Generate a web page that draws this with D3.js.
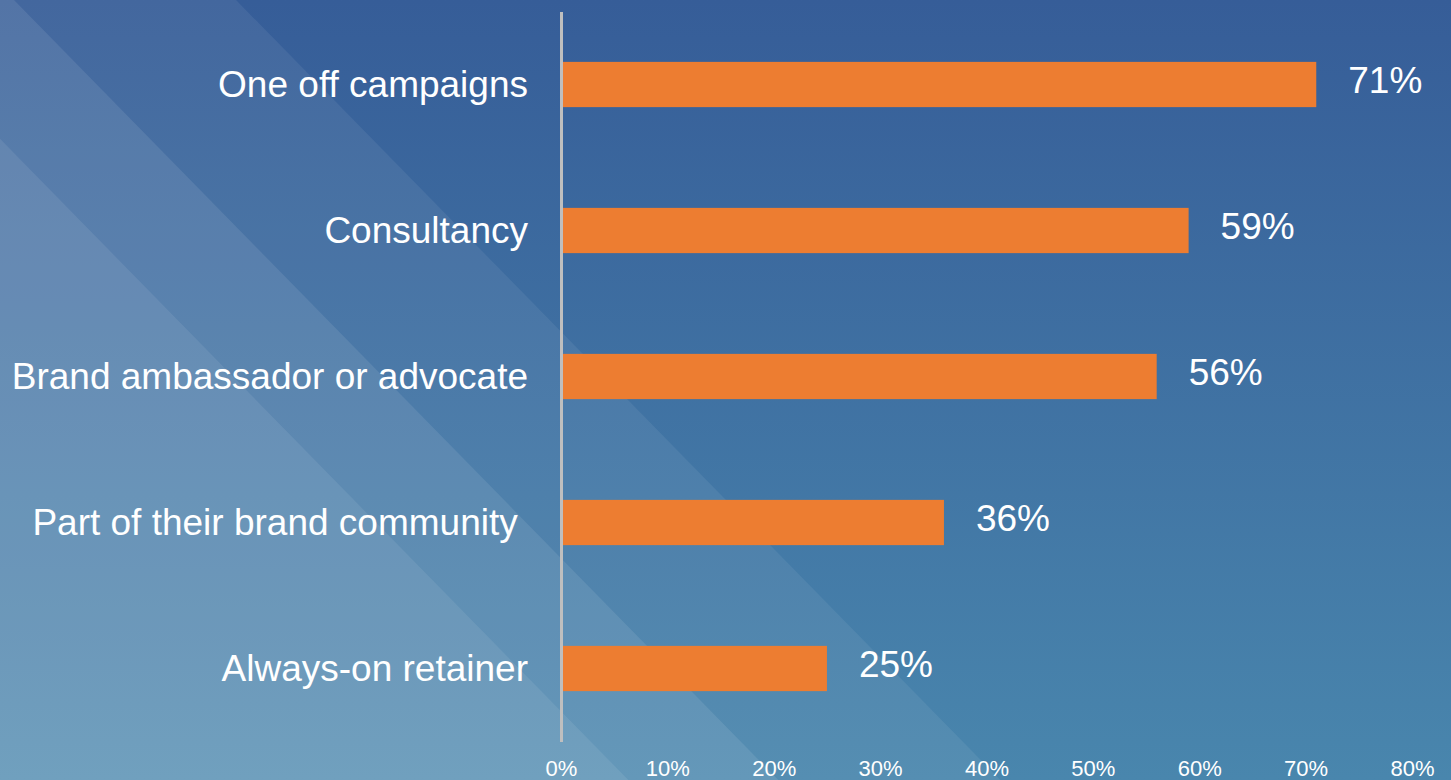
<!DOCTYPE html>
<html>
<head>
<meta charset="utf-8">
<script src="https://cdn.jsdelivr.net/npm/d3@7"></script>
<style>
  html, body { margin: 0; padding: 0; background: #365d98; }
  svg { display: block; }
  text { font-family: "Liberation Sans", Arial, sans-serif; fill: #ffffff; }
</style>
</head>
<body>
<svg id="chart" width="1451" height="780"></svg>
<script>
// Engagement types and share of respondents
const categories = [
  "One off campaigns",
  "Consultancy",
  "Brand ambassador or advocate",
  "Part of their brand community ",
  "Always-on retainer"
];
const shares = [0.71, 0.59, 0.56, 0.36, 0.25];
const tickValues = [0, 0.1, 0.2, 0.3, 0.4, 0.5, 0.6, 0.7, 0.8];

// Decorative diagonal bands of the slide background (x where each edge meets the top)
const bandEdges = [236, 14, -136];
const bandOpacity = [0.065, 0.09, 0.08];

const W = 1451, H = 780;
const svg = d3.select("#chart");

// Background: vertical blue gradient
const defs = svg.append("defs");
const grad = defs.append("linearGradient")
  .attr("id", "bg").attr("x1", 0).attr("y1", 0).attr("x2", 0).attr("y2", 1);
grad.append("stop").attr("offset", "0%").attr("stop-color", "#365d98");
grad.append("stop").attr("offset", "100%").attr("stop-color", "#4986ad");
svg.append("rect").attr("width", W).attr("height", H).attr("fill", "url(#bg)");

// Lighter translucent bands on the left, edges slanting down to the right
const slope = 0.98;
svg.append("g").selectAll("path")
  .data(bandEdges)
  .join("path")
  .attr("d", e => `M0,0 L${e},0 L${e + slope * H},${H} L0,${H} Z`)
  .attr("fill", "#ffffff")
  .attr("fill-opacity", (d, i) => bandOpacity[i]);

// Scales
const x = d3.scaleLinear().domain([0, 0.8]).range([561, 1412]);
const y = d3.scaleBand().domain(categories)
  .range([11.5, 741.5]).paddingInner(0.69).paddingOuter(0.345);

// Bars
svg.append("g").selectAll("rect")
  .data(categories)
  .join("rect")
  .attr("x", x(0))
  .attr("y", d => y(d))
  .attr("width", (d, i) => x(shares[i]) - x(0))
  .attr("height", y.bandwidth())
  .attr("fill", "#ed7d31");

// Value labels
svg.append("g").selectAll("text")
  .data(categories)
  .join("text")
  .attr("x", (d, i) => x(shares[i]) + 32)
  .attr("y", d => y(d) + y.bandwidth() / 2 + 8)
  .attr("font-size", 37)
  .text((d, i) => d3.format(".0%")(shares[i]));

// Category axis (vertical line + labels)
const yAxis = svg.append("g")
  .attr("transform", `translate(${x(0)},0)`)
  .call(d3.axisLeft(y).tickSize(0).tickSizeOuter(0).tickPadding(33));
yAxis.select(".domain").attr("stroke", "#bfbfbf").attr("stroke-width", 3);
yAxis.selectAll(".tick text")
  .attr("font-size", 37)
  .attr("fill", "#ffffff")
  .attr("font-family", null)
  .attr("dy", null)
  .attr("y", 12)
  .attr("xml:space", "preserve")
  .style("white-space", "pre");
yAxis.attr("font-family", null);

// Percentage axis along the bottom (labels only)
const xAxis = svg.append("g")
  .attr("transform", `translate(0,0)`)
  .call(d3.axisBottom(x).tickValues(tickValues).tickFormat(d3.format(".0%")).tickSize(0));
xAxis.select(".domain").remove();
xAxis.attr("font-family", null);
xAxis.selectAll(".tick text")
  .attr("font-size", 22)
  .attr("fill", "#f4f6f9")
  .attr("dy", null)
  .attr("y", 776);
</script>
</body>
</html>
